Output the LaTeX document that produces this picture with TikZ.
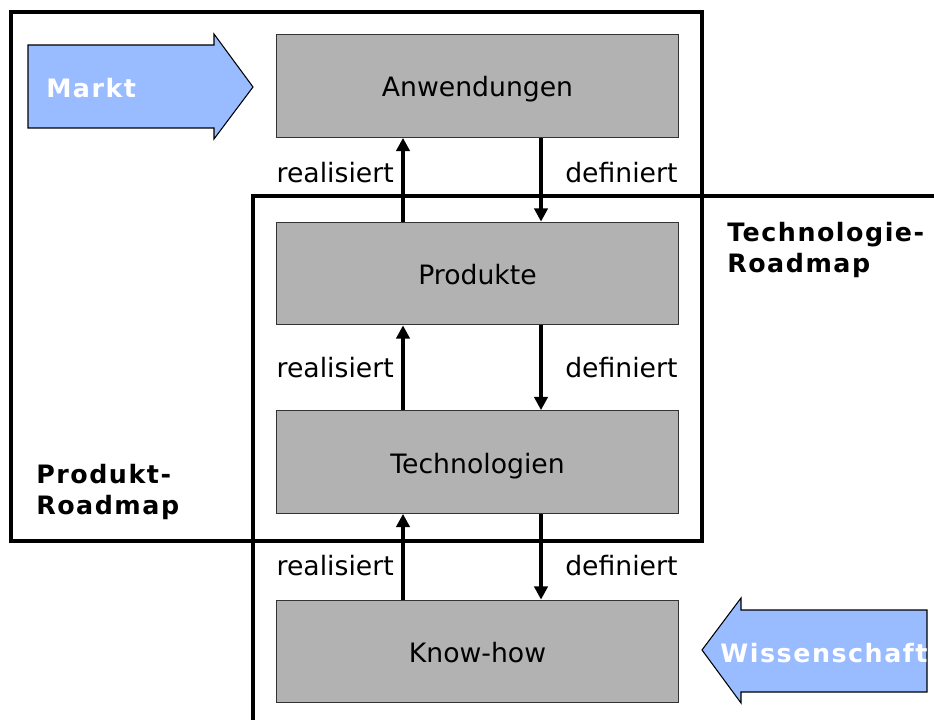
\documentclass[tikz,border=0pt]{standalone}
\usepackage{fontspec}
\setmainfont{DejaVu Sans}
\usepackage{tikz}
\usetikzlibrary{arrows.meta,calc}

\definecolor{boxgray}{RGB}{178,178,178}
\definecolor{arrowblue}{RGB}{153,187,255}

\tikzset{
  box/.style={draw={rgb,255:red,51;green,51;blue,51},line width=0.8pt,fill=boxgray,
    minimum width=302pt,minimum height=77pt,inner sep=0pt,
    text height=16.5pt,text depth=0pt,font=\fontsize{20}{24}\selectfont},
  flow/.style={line width=2.5pt,-{Triangle[length=10pt,width=10pt]}},
  lbl/.style={inner sep=0pt,font=\fontsize{20}{24}\selectfont},
  frame/.style={line width=3pt},
  blockarrow/.style={draw=black,line width=0.8pt,fill=arrowblue,line join=miter},
  title/.style={align=left,inner sep=0pt,
    font=\fontsize{19}{23.25}\selectfont\bfseries\addfontfeatures{LetterSpace=6}}
}

\begin{document}
\begin{tikzpicture}[x=0.75pt,y=0.75pt,yscale=-1,xscale=1]
\useasboundingbox (0,0) rectangle (934,720);

%Shape: Rectangle [Produkt-Roadmap]
\draw [frame] (11,12) rectangle (702,541) ;
%Straight Lines [Technologie-Roadmap]
\draw [frame] (253,722) -- (253,196) -- (936,196) ;

%Shape: Arrow [Markt]
\draw [blockarrow] (28,45) -- (214,45) -- (214,34) -- (253,87) -- (214,139) -- (214,128) -- (28,128) -- cycle ;
%Shape: Arrow [Wissenschaft]
\draw [blockarrow] (927,610) -- (741,610) -- (741,598) -- (702,650) -- (741,703) -- (741,692) -- (927,692) -- cycle ;

% Boxes
\node [box] (anw) at (477.5,86) {Anwendungen};
\node [box] (prod) at (477.5,273.5) {Produkte};
\node [box] (tech) at (477.5,462) {Technologien};
\node [box] (know) at (477.5,651.5) {Know-how};

\coordinate (up) at (403,0);
\coordinate (down) at (541,0);

% Arrows between the levels, \y = baseline of the labels
\foreach \lo/\hi/\y in {prod/anw/183,tech/prod/377,know/tech/575}{
  \draw [flow] (\lo.north -| up) -- (\hi.south -| up) ;
  \draw [flow] (\hi.south -| down) -- (\lo.north -| down) ;
  \node [lbl,anchor=base east] (r\lo) at ($(up)+(-9,\y)$) {realisiert};
  \node [lbl,anchor=base west] (d\lo) at ($(down)+(24,\y)$) {definiert};
}

% Text Node
\node [title,text=white,anchor=west] (markt) at (46,88) {Markt};
% Text Node
\node [title,text=white] (wiss) at (824,653) {Wissenschaft};
% Text Node
\node [title,anchor=north west] (prm) at (36,464) {Produkt-\\Roadmap};
% Text Node
\node [title,anchor=north west] (trm) at (727,222) {Technologie-\\Roadmap};

\end{tikzpicture}
\end{document}
